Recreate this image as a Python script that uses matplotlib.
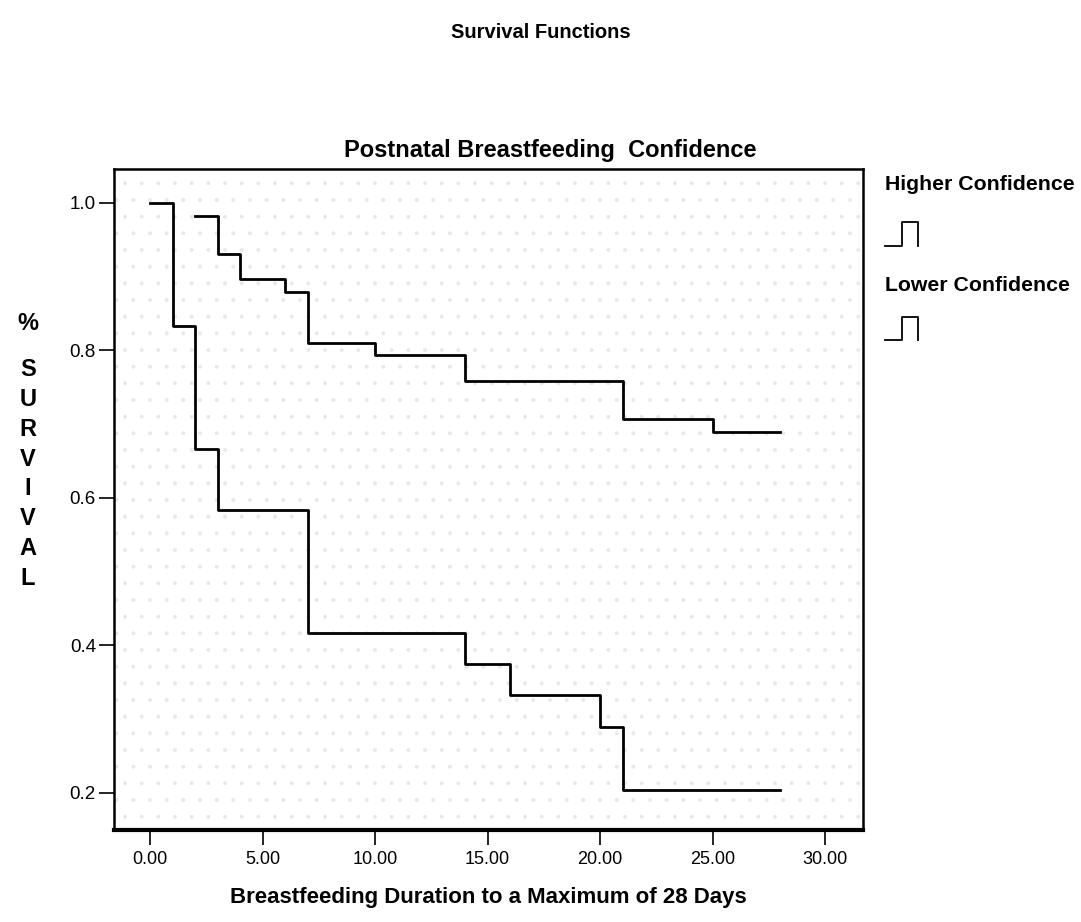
import matplotlib
matplotlib.use("Agg")
import matplotlib.pyplot as plt
from matplotlib.lines import Line2D
from matplotlib.patches import Rectangle

# Kaplan-Meier step estimates (time in days, cumulative survival)
lower_times = [0, 1, 2, 3, 7, 14, 16, 20, 21, 28]
lower_surv = [1.0, 0.833, 0.667, 0.583, 0.417, 0.375, 0.333, 0.290, 0.204, 0.204]

higher_times = [2, 3, 4, 6, 7, 10, 14, 21, 25, 28]
higher_surv = [0.982, 0.931, 0.897, 0.879, 0.810, 0.794, 0.759, 0.707, 0.690, 0.690]

x_ticks = [0, 5, 10, 15, 20, 25, 30]
y_ticks = [0.2, 0.4, 0.6, 0.8, 1.0]
group_labels = ["Higher Confidence", "Lower Confidence"]

bold_family = ["Liberation Sans", "DejaVu Sans"]

fig = plt.figure(figsize=(10.81, 9.22), dpi=100)
ax = fig.add_axes([0.1055, 0.0998, 0.6929, 0.7169])

# light stippled plot background
plt.rcParams["hatch.linewidth"] = 0.4
ax.add_patch(Rectangle((0, 0), 1, 1, transform=ax.transAxes, facecolor="white",
                       edgecolor="#e8e8e8", hatch=".", lw=0, zorder=0))

ax.step(lower_times, lower_surv, where="post", color="black", lw=2.0)
ax.step(higher_times, higher_surv, where="post", color="black", lw=2.0)

ax.set_xlim(-1.6, 31.69)
ax.set_ylim(0.1498, 1.046)
ax.set_xticks(x_ticks)
ax.set_xticklabels([f"{v:.2f}" for v in x_ticks], family=bold_family, fontsize=13)
ax.set_yticks(y_ticks)
ax.set_yticklabels([f"{v:.1f}" for v in y_ticks], family=bold_family, fontsize=13.5)
ax.tick_params(axis="both", direction="out", length=11, width=1.2, color="black", pad=2)
ax.tick_params(axis="x", pad=4)

for side in ["left", "top", "right"]:
    ax.spines[side].set_linewidth(1.8)
ax.spines["bottom"].set_linewidth(3.0)

ax.set_xlabel("Breastfeeding Duration to a Maximum of 28 Days",
              family=bold_family, fontweight="bold", fontsize=16, labelpad=14)

fig.text(0.5, 1 - 32 / 922, "Survival Functions", ha="center", va="center",
         family=bold_family, fontweight="bold", fontsize=14.5)
fig.text(550 / 1081, 1 - 150 / 922, "Postnatal Breastfeeding  Confidence", ha="center",
         va="center", family=bold_family, fontweight="bold", fontsize=17)

# Vertical y-axis title
fig.text(0.026, 1 - 323 / 922, "%", ha="center", va="center",
         family=bold_family, fontweight="bold", fontsize=17)
fig.text(0.026, 1 - 474 / 922, "S\nU\nR\nV\nI\nV\nA\nL", ha="center", va="center",
         family=bold_family, fontweight="bold", fontsize=17, linespacing=1.38)

# Legend: labels with step-shaped glyphs
W, H = 1081, 922
for label, ty, gy_top, gy_bot in [(group_labels[0], 184, 222, 246),
                                  (group_labels[1], 285, 317, 340)]:
    fig.text(885 / W, 1 - ty / H, label, ha="left", va="center",
             family=bold_family, fontweight="bold", fontsize=15.3)
    xs = [885, 902, 902, 918, 918]
    ys = [gy_bot, gy_bot, gy_top, gy_top, gy_bot]
    fig.add_artist(Line2D([x / W for x in xs], [1 - y / H for y in ys],
                          color="black", lw=1.3, transform=fig.transFigure))

fig.savefig("out.png", dpi=100)
